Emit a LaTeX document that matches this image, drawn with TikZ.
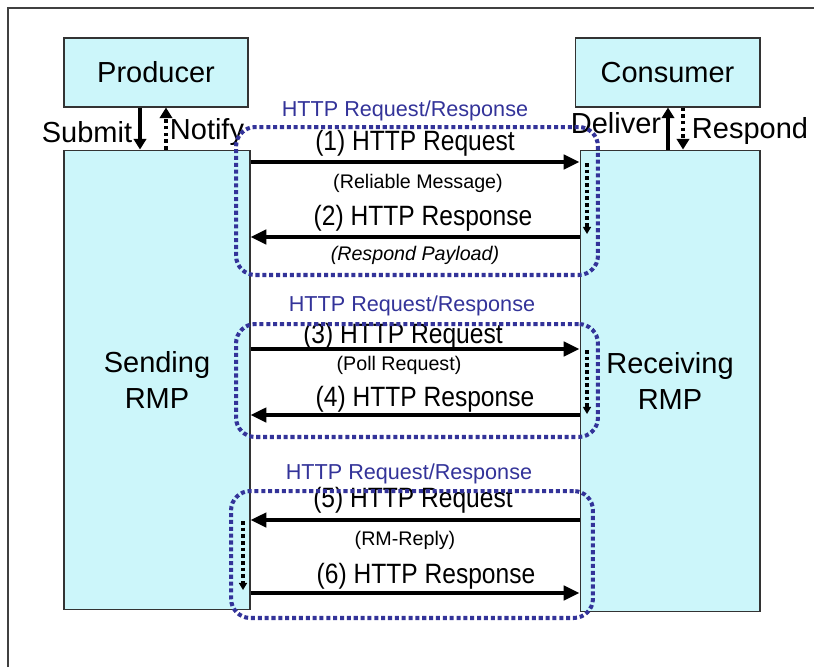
\documentclass[tikz,border=0pt]{standalone}
\usepackage{fontspec}
\setmainfont{Liberation Sans}
\newfontfamily\msgfont[FakeStretch=0.88]{Liberation Sans}
\usetikzlibrary{arrows.meta}
\definecolor{rmpcyan}{RGB}{204,246,250}
\definecolor{grpblue}{RGB}{51,51,153}
\tikzstyle{box} = [rectangle, draw=black!80, fill=rmpcyan, line width=0.6pt, inner sep=0pt, align=center, font=\fontsize{16.5}{20}\selectfont]
\tikzstyle{group} = [rectangle, rounded corners=11pt, draw=grpblue, line width=2.3pt, dash pattern=on 2.3pt off 1.6pt]
\tikzstyle{grouplabel} = [text=grpblue, font=\fontsize{12.3}{14}\selectfont]
\tikzstyle{msg} = [line width=2.3pt, -{Triangle[length=9pt, width=8pt]}]
\tikzstyle{updown} = [line width=2.3pt, -{Triangle[length=6pt, width=7pt]}]
\tikzstyle{poll} = [line width=2.4pt, dash pattern=on 2pt off 1.8pt, -{Triangle[length=4pt, width=4.5pt]}]
\tikzstyle{big} = [font=\msgfont\fontsize{15.9}{18}\selectfont]
\tikzstyle{small} = [font=\fontsize{11.2}{13}\selectfont]
\tikzstyle{side} = [font=\fontsize{16.5}{19}\selectfont]

\begin{document}
\begin{tikzpicture}[x=0.02cm, y=-0.02cm]
\useasboundingbox (0,0) rectangle (814,667);
\draw [black!75, line width=0.6pt] (8,667) -- (8,8) -- (814,8);

% the four parties
\node (producer) [box, minimum width=3.68cm, minimum height=1.38cm] at (156,72.5) {Producer};
\node (consumer) [box, minimum width=3.7cm, minimum height=1.38cm] at (667.5,72.5) {Consumer};
\node (sender) [box, minimum width=3.72cm, minimum height=9.2cm] at (157,380) {Sending\\RMP};
\node (receiver) [box, minimum width=3.6cm, minimum height=9.24cm] at (670,381) {Receiving\\RMP};

% application side
\draw [updown] (producer.south -| 140,0) -- (sender.north -| 140,0);
\draw [updown, dash pattern=on 2pt off 1.8pt] (sender.north -| 166,0) -- (producer.south -| 166,0);
\draw [updown] (receiver.north -| 668,0) -- (consumer.south -| 668,0);
\draw [updown, dash pattern=on 2pt off 1.8pt] (consumer.south -| 683,0) -- (receiver.north -| 683,0);
\node (submit) [side] at (87,132) {Submit};
\node (notify) [side] at (207,132) {Notify};
\node (deliver) [side] at (616,123) {Deliver};
\node (respond) [side] at (750,131) {Respond};

% exchange 1
\coordinate (p1a) at (587,163);
\coordinate (p1b) at (587,234);
\draw [msg] (sender.east |- 0,162) -- (receiver.west |- 0,162);
\draw [msg] (receiver.west |- 0,237) -- (sender.east |- 0,237);
\draw [poll] (p1a) -- (p1b);
\node (m1) [big] at (415,143) {(1) HTTP Request};
\node (n1) [small] at (418,183) {(Reliable Message)};
\node (m2) [big] at (423,218) {(2) HTTP Response};
\node (n2) [small, font=\fontsize{11.2}{13}\selectfont\itshape] at (415,255) {(Respond Payload)};

% exchange 2
\coordinate (p2a) at (587,350);
\coordinate (p2b) at (587,414);
\draw [msg] (sender.east |- 0,349) -- (receiver.west |- 0,349);
\draw [msg] (receiver.west |- 0,415) -- (sender.east |- 0,415);
\draw [poll] (p2a) -- (p2b);
\node (m3) [big] at (403,336) {(3) HTTP Request};
\node (n3) [small] at (399,365) {(Poll Request)};
\node (m4) [big] at (425,399) {(4) HTTP Response};

% exchange 3
\coordinate (p3a) at (243,521);
\coordinate (p3b) at (243,590);
\draw [msg] (receiver.west |- 0,520) -- (sender.east |- 0,520);
\draw [msg] (sender.east |- 0,593) -- (receiver.west |- 0,593);
\draw [poll] (p3a) -- (p3b);
\node (m5) [big] at (413,500) {(5) HTTP Request};
\node (n5) [small] at (405,540) {(RM-Reply)};
\node (m6) [big] at (426,576) {(6) HTTP Response};

% request/response groups
\node (grp1) [group, minimum width=7.24cm, minimum height=2.96cm] at (417,201) {};
\node (grp2) [group, minimum width=7.24cm, minimum height=2.26cm] at (417,380.5) {};
\node (grp3) [group, minimum width=7.24cm, minimum height=2.54cm] at (412,554.5) {};
\node (lbl1) [grouplabel] at (405,111) {HTTP Request/Response};
\node (lbl2) [grouplabel] at (412,306) {HTTP Request/Response};
\node (lbl3) [grouplabel] at (409,474) {HTTP Request/Response};
\end{tikzpicture}
\end{document}
